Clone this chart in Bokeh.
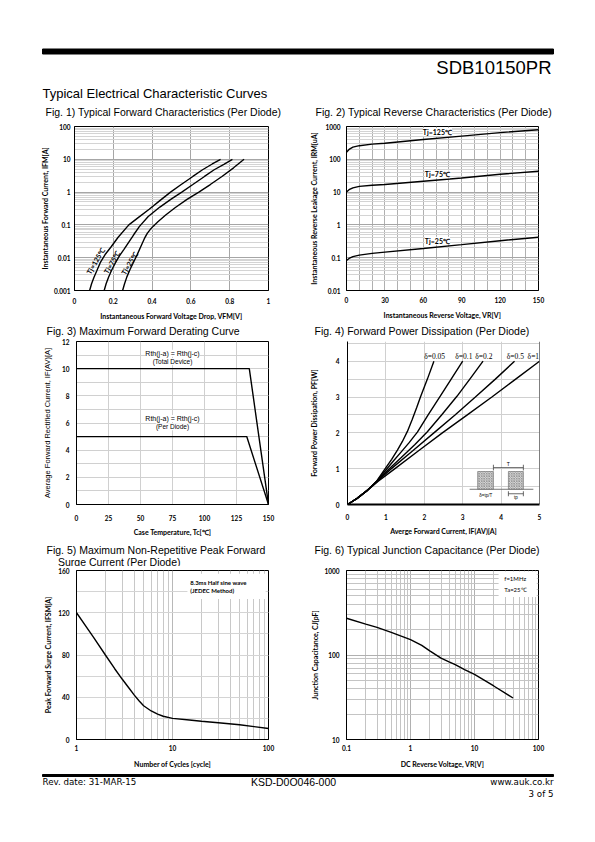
from bokeh.plotting import figure
from bokeh.layouts import column, row
from bokeh.models import Range1d, FixedTicker, CustomJSTickFormatter, Label, BoxAnnotation, Span
from bokeh.core.properties import value
from bokeh.embed import file_html
from bokeh.resources import INLINE

# ---------------- texts ----------------
part_number = "SDB10150PR"
section_title = "Typical Electrical Characteristic Curves"
title_f1 = "Fig. 1) Typical Forward Characteristics (Per Diode)"
title_f2 = "Fig. 2) Typical Reverse Characteristics (Per Diode)"
title_f3 = "Fig. 3) Maximum Forward Derating Curve"
title_f4 = "Fig. 4) Forward Power Dissipation (Per Diode)"
title_f5a = "Fig. 5) Maximum Non-Repetitive Peak Forward"
title_f5b = "Surge Current (Per Diode)"
title_f6 = "Fig. 6) Typical Junction Capacitance (Per Diode)"
footer_left = "Rev. date: 31-MAR-15"
footer_mid = "KSD-D0O046-000"
footer_right = "www.auk.co.kr"
footer_page = "3 of 5"

# ---------------- Fig 1 data ----------------
f1_v125 = [0.078, 0.088, 0.10, 0.115, 0.135, 0.16, 0.19, 0.225, 0.28, 0.33, 0.385, 0.44, 0.495, 0.55, 0.61, 0.66, 0.71, 0.753]
f1_i125 = [0.001, 0.0016, 0.0025, 0.004, 0.0075, 0.013, 0.022, 0.042, 0.1, 0.17, 0.3, 0.55, 1.0, 1.7, 3.0, 4.8, 7.2, 10]
f1_v75 = [0.153, 0.163, 0.175, 0.19, 0.21, 0.23, 0.255, 0.28, 0.305, 0.335, 0.38, 0.44, 0.50, 0.553, 0.61, 0.67, 0.72, 0.77, 0.814]
f1_i75 = [0.001, 0.0016, 0.0025, 0.004, 0.0068, 0.011, 0.018, 0.03, 0.05, 0.09, 0.18, 0.35, 0.62, 1.0, 1.7, 3.0, 4.8, 7.0, 10]
f1_v25 = [0.248, 0.258, 0.27, 0.285, 0.303, 0.322, 0.342, 0.36, 0.375, 0.39, 0.405, 0.43, 0.47, 0.52, 0.58, 0.641, 0.70, 0.76, 0.82, 0.874]
f1_i25 = [0.001, 0.0016, 0.0026, 0.0042, 0.007, 0.012, 0.022, 0.038, 0.055, 0.072, 0.09, 0.125, 0.2, 0.34, 0.6, 1.0, 1.7, 3.0, 5.5, 10]
f1_labels = ["Tj=125\u2103", "Tj=75\u2103", "Tj=25\u2103"]
f1_label_x = [0.108, 0.192, 0.282]
f1_label_y = [0.008, 0.0073, 0.0068]
f1_xticks = [0, 0.2, 0.4, 0.6, 0.8, 1]
f1_yticks = [0.001, 0.01, 0.1, 1, 10, 100]

# ---------------- Fig 2 data ----------------
f2_vr = [0, 2, 5, 10, 20, 30, 60, 90, 120, 150]
f2_i125 = [165, 200, 235, 260, 290, 310, 400, 510, 650, 800]
f2_i75 = [10, 11.8, 13.5, 15, 16.2, 17, 21.5, 27, 35, 43]
f2_i25 = [0.082, 0.095, 0.108, 0.12, 0.135, 0.148, 0.19, 0.25, 0.33, 0.42]
f2_labels = ["Tj=125\u2103", "Tj=75\u2103", "Tj=25\u2103"]
f2_label_x = [71, 71, 71]
f2_label_y = [680, 35, 0.33]
f2_xticks = [0, 30, 60, 90, 120, 150]
f2_yticks = [0.01, 0.1, 1, 10, 100, 1000]

# ---------------- Fig 3 data ----------------
f3_t_total = [0, 135, 150]
f3_i_total = [10, 10, 0]
f3_t_diode = [0, 133, 150]
f3_i_diode = [5, 5, 0]
f3_xticks = [0, 25, 50, 75, 100, 125, 150]
f3_yticks = [0, 2, 4, 6, 8, 10, 12]
f3_rth = "Rth(j-a) = Rth(j-c)"
f3_lab_total = "(Total Device)"
f3_lab_diode = "(Per Diode)"

# ---------------- Fig 4 data ----------------
f4_duty = ["\u03b4=0.05", "\u03b4=0.1", "\u03b4=0.2", "\u03b4=0.5", "\u03b4=1"]
f4_i = [
    [0, 0.25, 0.5, 0.75, 0.95, 1.15, 1.3, 1.43, 1.56, 1.68, 1.8, 1.9, 2.08, 2.25],
    [0, 0.25, 0.5, 0.75, 0.99, 1.2, 1.4, 1.6, 1.82, 2.1, 2.42, 2.7, 3.0],
    [0, 0.25, 0.5, 0.75, 1.06, 1.4, 1.75, 2.08, 2.45, 2.85, 3.2, 3.53],
    [0, 0.25, 0.5, 0.8, 1.12, 1.7, 2.25, 2.8, 3.33, 3.85, 4.35],
    [0, 0.25, 0.5, 0.8, 1.21, 1.85, 2.47, 3.12, 3.76, 4.38, 5.0],
]
f4_p = [
    [0, 0.17, 0.38, 0.64, 0.95, 1.26, 1.52, 1.76, 2.04, 2.36, 2.7, 3.0, 3.5, 4.0],
    [0, 0.17, 0.38, 0.64, 0.95, 1.22, 1.47, 1.72, 2.02, 2.5, 3.03, 3.5, 4.0],
    [0, 0.17, 0.38, 0.63, 0.97, 1.31, 1.67, 2.03, 2.5, 3.02, 3.52, 4.0],
    [0, 0.17, 0.38, 0.67, 0.98, 1.5, 2.0, 2.5, 3.0, 3.5, 4.0],
    [0, 0.17, 0.38, 0.65, 0.98, 1.5, 2.0, 2.5, 3.0, 3.5, 4.0],
]
f4_label_x = [2.27, 3.03, 3.55, 4.37, 4.84]
f4_label_y = 4.13
f4_xticks = [0, 1, 2, 3, 4, 5]
f4_yticks = [0, 1, 2, 3, 4]
# inset pulse sketch
inset_base_x = [3.18, 4.84]
inset_base_y = [0.425, 0.425]
inset_pulse_left = [3.39, 4.19]
inset_pulse_right = [3.80, 4.58]
inset_pulse_bottom = [0.425, 0.425]
inset_pulse_top = [0.92, 0.92]
inset_T_x = [3.80, 4.58]
inset_T_y = 1.03
inset_tp_y = 0.30

# ---------------- Fig 5 data ----------------
f5_n = [1, 1.5, 2, 2.5, 3, 3.5, 4, 4.5, 5, 6, 7, 8, 10, 15, 20, 30, 50, 100]
f5_i = [120, 97, 80, 67, 57, 49, 42, 36.5, 32, 27, 24, 22, 20, 18.5, 17.3, 15.8, 13.9, 10.4]
f5_note = ["8.3ms  Half sine wave", "(JEDEC  Method)"]
f5_xticks = [1, 10, 100]
f5_yticks = [0, 40, 80, 120, 160]

# ---------------- Fig 6 data ----------------
f6_v = [0.1, 0.2, 0.3, 0.5, 0.7, 1, 1.5, 2, 3, 4, 5, 7, 10, 20, 40]
f6_c = [272, 232, 212, 185, 168, 152, 130, 112, 92, 83, 77, 67, 59, 43, 31]
f6_note = ["f=1MHz", "Ta=25\u2103"]
f6_xticks = [0.1, 1, 10, 100]
f6_yticks = [10, 100, 1000]

AX_FONT = "Lato"
TITLE_FONT = "Liberation Sans"
PAGE_W = 587


def log_minor(e0, e1):
    return [k * 10.0 ** e for e in range(e0, e1) for k in range(2, 10)]


def strip(y0, y1):
    p = figure(width=PAGE_W, height=y1 - y0, x_range=Range1d(0, PAGE_W), y_range=Range1d(y1, y0),
               x_axis_type=None, y_axis_type=None, output_backend="svg", toolbar_location=None,
               title=None, min_border=0)
    p.outline_line_color = None
    return p


def put_text(p, x, y, txt, size, font=TITLE_FONT, align="left", style="normal"):
    p.text(x=[x], y=[y], text=[txt], text_font=value(font), text_font_size=size,
           text_align=align, text_baseline="middle", text_color="black", text_font_style=style)


def chart(w, h, bl, br, bt, bb, xr, yr, xt="linear", yt="linear"):
    p = figure(width=w, height=h, x_range=xr, y_range=yr, x_axis_type=xt, y_axis_type=yt,
               output_backend="svg", toolbar_location=None, title=None,
               min_border_left=bl, min_border_right=br, min_border_top=bt, min_border_bottom=bb)
    p.outline_line_color = "black"
    p.outline_line_alpha = 1
    for ax in (p.xaxis[0], p.yaxis[0]):
        ax.axis_line_color = "black"
        ax.major_tick_line_color = None
        ax.minor_tick_line_color = None
        ax.major_tick_out = 0
        ax.major_tick_in = 0
        ax.minor_tick_out = 0
        ax.minor_tick_in = 0
        ax.major_label_text_font = AX_FONT
        ax.major_label_text_font_style = "bold"
        ax.major_label_text_font_size = "6.5px"
        ax.major_label_text_color = "black"
        ax.axis_label_text_font = AX_FONT
        ax.axis_label_text_font_style = "bold"
        ax.axis_label_text_font_size = "7px"
        ax.axis_label_text_color = "black"
        ax.formatter = CustomJSTickFormatter(code="return tick.toString();")
    return p


def set_ticks(p, dim, major, minor, major_color, minor_color=None):
    t = FixedTicker(ticks=major, minor_ticks=minor)
    axis = p.xaxis[0] if dim == 0 else p.yaxis[0]
    grid = p.xgrid[0] if dim == 0 else p.ygrid[0]
    axis.ticker = t
    grid.ticker = t
    grid.grid_line_color = major_color
    grid.grid_line_width = 1
    grid.minor_grid_line_color = minor_color


def standoffs(p, xs, xl, ys, yl):
    p.xaxis[0].major_label_standoff = xs
    p.xaxis[0].axis_label_standoff = xl
    p.yaxis[0].major_label_standoff = ys
    p.yaxis[0].axis_label_standoff = yl


def note(p, x, y, txt, size="6px", font=AX_FONT, style="bold", align="center", bg=None, angle=0):
    lab = Label(x=x, y=y, text=txt, text_font=font, text_font_size=size, text_font_style=style,
                text_align=align, text_baseline="middle", text_color="black", angle=angle,
                angle_units="deg")
    if bg:
        lab.background_fill_color = bg
    p.add_layout(lab)


LW = 1.4

# ---------------- header ----------------
header = strip(0, 119)
header.quad(left=[42], right=[553], top=[48.5], bottom=[53.5], color="black")
put_text(header, 551, 67, part_number, "18.5px", align="right")
put_text(header, 42, 92.5, section_title, "13px")
put_text(header, 45, 111.5, title_f1, "10.5px")
put_text(header, 315, 111.5, title_f2, "10.5px")

# ---------------- Fig 1 ----------------
f1 = chart(300, 203, 74, 32, 7, 28, Range1d(0, 1), Range1d(0.001, 100), yt="log")
set_ticks(f1, 0, f1_xticks, [], "#a6a6a6")
set_ticks(f1, 1, f1_yticks, log_minor(-3, 2), "#a6a6a6", "#d4d4d4")
f1.xaxis.axis_label = "Instantaneous Forward Voltage Drop, VFM[V]"
f1.yaxis.axis_label = "Instantaneous Forward Current, IFM[A]"
standoffs(f1, 7, 5, 4, 2)
f1.line(f1_v125, f1_i125, line_color="black", line_width=LW)
f1.line(f1_v75, f1_i75, line_color="black", line_width=LW)
f1.line(f1_v25, f1_i25, line_color="black", line_width=LW)
for t, x, y in zip(f1_labels, f1_label_x, f1_label_y):
    note(f1, x, y, t, size="7px", angle=60)

# ---------------- Fig 2 ----------------
f2 = chart(287, 203, 46, 49, 7, 27, Range1d(0, 150), Range1d(0.01, 1000), yt="log")
set_ticks(f2, 0, f2_xticks, list(range(0, 151, 10)), "#b0b0b0", "#b0b0b0")
set_ticks(f2, 1, f2_yticks, log_minor(-2, 3), "#a6a6a6", "#d4d4d4")
f2.xaxis.axis_label = "Instantaneous Reverse Voltage, VR[V]"
f2.yaxis.axis_label = "Instantaneous Reverse Leakage Current, IRM[uA]"
standoffs(f2, 6, 5, 6, 4)
for ys in (f2_i125, f2_i75, f2_i25):
    f2.line(f2_vr, ys, line_color="black", line_width=LW)
for t, x, y in zip(f2_labels, f2_label_x, f2_label_y):
    note(f2, x, y, t, size="7px", bg="white")

# ---------------- strip 1 ----------------
s1 = strip(322, 337)
put_text(s1, 46, 330, title_f3, "10.5px")
put_text(s1, 314, 330, title_f4, "10.5px")

# ---------------- Fig 3 ----------------
f3 = chart(300, 201, 76, 32, 3, 29, Range1d(0, 150), Range1d(0, 12))
set_ticks(f3, 0, f3_xticks, [], "#d0d0d0")
set_ticks(f3, 1, f3_yticks, list(range(0, 13)), "#d0d0d0", "#d0d0d0")
f3.xaxis.axis_label = "Case Temperature, Tc[\u2103]"
f3.yaxis.axis_label = "Average Forward Rectified Current, IF(AV)[A]"
f3.yaxis.axis_label_text_font = "Liberation Sans"
f3.yaxis.axis_label_text_font_style = "normal"
f3.yaxis.axis_label_text_font_size = "7.5px"
standoffs(f3, 10, 4, 7, 7)
f3.line(f3_t_total, f3_i_total, line_color="black", line_width=LW)
f3.line(f3_t_diode, f3_i_diode, line_color="black", line_width=LW)
note(f3, 75, 11.13, f3_rth, size="7px", font="Liberation Sans", style="normal", bg="white")
note(f3, 75, 10.52, f3_lab_total, size="6.5px", font="Liberation Sans", style="normal", bg="white")
note(f3, 75, 6.33, f3_rth, size="7px", font="Liberation Sans", style="normal", bg="white")
note(f3, 75, 5.72, f3_lab_diode, size="6.5px", font="Liberation Sans", style="normal", bg="white")

# ---------------- Fig 4 ----------------
f4 = chart(287, 201, 47, 48, 4, 27, Range1d(0, 5), Range1d(0, 4.55))
set_ticks(f4, 0, f4_xticks, [], "#d0d0d0")
set_ticks(f4, 1, f4_yticks, [0.5, 1.5, 2.5, 3.5, 4.5], "#d0d0d0", "#d0d0d0")
f4.outline_line_color = None
f4.add_layout(Span(location=5, dimension="height", line_color="black", line_width=1))
f4.xaxis[0].axis_line_width = 2
f4.xaxis.axis_label = "Averge Forward Current, IF(AV)[A]"
f4.yaxis.axis_label = "Forward Power Dissipation, PF[W]"
standoffs(f4, 9, 4, 8, 15)
for xs, ys in zip(f4_i, f4_p):
    f4.line(xs, ys, line_color="black", line_width=LW)
for t, x in zip(f4_duty, f4_label_x):
    note(f4, x, f4_label_y, t, size="7.5px", font="Liberation Serif", style="normal")
f4.line(inset_base_x, inset_base_y, line_color="#777777", line_width=1)
f4.quad(left=inset_pulse_left, right=inset_pulse_right, bottom=inset_pulse_bottom, top=inset_pulse_top,
        fill_color="#d8d8d8", line_color="#666666", line_width=0.6,
        hatch_pattern="x", hatch_scale=2.5, hatch_color="#666666", hatch_weight=0.5)
f4.line(inset_T_x, [inset_T_y, inset_T_y], line_color="#444444", line_width=0.8)
f4.segment(x0=inset_T_x, y0=[inset_T_y - 0.08] * 2, x1=inset_T_x, y1=[inset_T_y + 0.08] * 2,
           line_color="#444444", line_width=0.8)
f4.line(inset_pulse_left[1:] + inset_pulse_right[1:], [inset_tp_y, inset_tp_y], line_color="#444444", line_width=0.8)
f4.segment(x0=[inset_pulse_left[1], inset_pulse_right[1]], y0=[inset_tp_y - 0.07] * 2,
           x1=[inset_pulse_left[1], inset_pulse_right[1]], y1=[inset_tp_y + 0.07] * 2,
           line_color="#444444", line_width=0.8)
note(f4, 4.19, inset_T_y + 0.1, "T", size="5px", font="Liberation Sans", style="normal")
note(f4, 3.6, 0.24, "\u03b4=tp/T", size="4.5px", font="Liberation Sans", style="normal")
note(f4, 4.385, 0.2, "tp", size="4.5px", font="Liberation Sans", style="normal")

# ---------------- strip 2 ----------------
s2 = strip(538, 566)
put_text(s2, 46, 549, title_f5a, "10.5px")
put_text(s2, 57.5, 561, title_f5b, "10.5px")
put_text(s2, 314, 549, title_f6, "10.5px")

# ---------------- Fig 5 ----------------
f5 = chart(300, 204, 76, 32, 4, 31, Range1d(1, 100), Range1d(0, 160), xt="log")
set_ticks(f5, 0, f5_xticks, log_minor(0, 2), "#b8b8b8", "#c8c8c8")
set_ticks(f5, 1, f5_yticks, list(range(0, 161, 20)), "#d4d4d4", "#d4d4d4")
f5.xaxis.axis_label = "Number of Cycles [cycle]"
f5.yaxis.axis_label = "Peak Forward Surge Current, IFSM[A]"
standoffs(f5, 5, 6, 7, 3)
f5.add_layout(BoxAnnotation(left=14.3, right=93.5, bottom=133, top=157, fill_color="white",
                            fill_alpha=1, line_color=None))
f5.line(f5_n, f5_i, line_color="black", line_width=LW)
note(f5, 15.3, 149, f5_note[0], size="6px", align="left")
note(f5, 15.3, 141, f5_note[1], size="6px", align="left")

# ---------------- Fig 6 ----------------
f6 = chart(287, 204, 46, 49, 2, 31, Range1d(0.1, 100), Range1d(10, 1000), xt="log", yt="log")
set_ticks(f6, 0, f6_xticks, log_minor(-1, 2), "#b0b0b0", "#c4c4c4")
set_ticks(f6, 1, f6_yticks, log_minor(1, 3), "#b0b0b0", "#c4c4c4")
f6.xaxis.axis_label = "DC Reverse Voltage, VR[V]"
f6.yaxis.axis_label = "Junction Capacitance, CJ[pF]"
standoffs(f6, 5, 6, 7, 2)
f6.add_layout(BoxAnnotation(left=23.8, right=94, bottom=487, top=973, fill_color="white",
                            fill_alpha=1, line_color=None))
f6.line(f6_v, f6_c, line_color="black", line_width=LW)
note(f6, 29.2, 798, f6_note[0], size="6px", align="left", style="normal")
note(f6, 29.2, 593, f6_note[1], size="6px", align="left", style="normal")

# ---------------- footer ----------------
footer = strip(770, 800)
footer.quad(left=[42], right=[553], top=[774], bottom=[776], color="black")
put_text(footer, 42, 781, footer_left, "8.7px", font="DejaVu Sans")
put_text(footer, 293, 781, footer_mid, "10.5px", align="center")
put_text(footer, 553, 781, footer_right, "8.7px", font="DejaVu Sans", align="right")
put_text(footer, 553, 793, footer_page, "8.7px", font="DejaVu Sans", align="right")

layout = column(header, row(f1, f2), s1, row(f3, f4), s2, row(f5, f6), footer)
open("out.html", "w").write(file_html(layout, INLINE))
